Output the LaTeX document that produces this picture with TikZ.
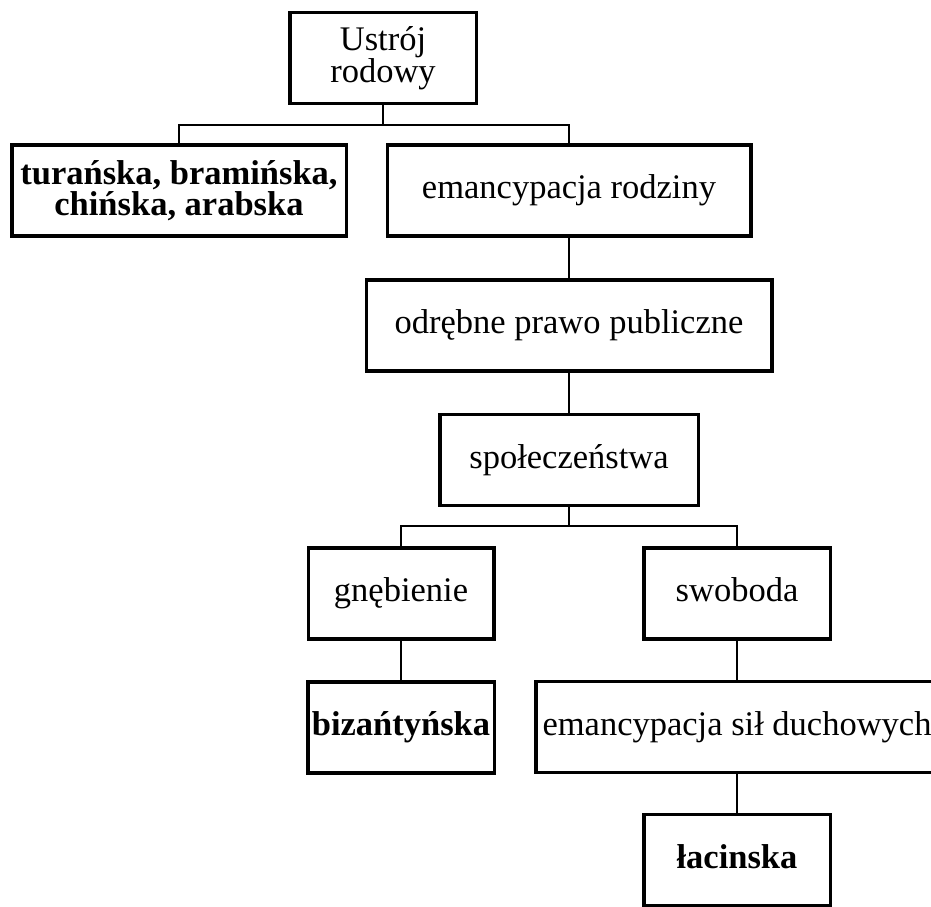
\documentclass[tikz,border=0pt]{standalone}
\usepackage{fontspec}
\setmainfont{Liberation Serif}
\usetikzlibrary{positioning}
\tikzset{
    every node/.style={font=\fontsize{34.5}{31}\selectfont},
    stage/.style={draw,line width=3.5pt,fill=white,align=center,inner sep=0pt,minimum height=91pt},
    tribe/.style={stage,font=\fontsize{34.5}{31}\selectfont\bfseries},
    oneline/.style={text height=23.5pt,text depth=7.5pt},
    link/.style={draw,line width=2pt}
}

\begin{document}
\begin{tikzpicture}[x=1pt,y=-1pt]
\useasboundingbox (0,0) rectangle (931,906);
\clip (0,0) rectangle (931,906);
% top: ustroj rodowy and first split
\node[stage,minimum width=186.5pt] (rod) at (383,58) {Ustrój\\rodowy};
\node[tribe,minimum width=334.5pt] (tur) at (179,190.5) {turańska, bramińska,\\chińska, arabska};
\node[stage,oneline,minimum width=363.5pt] (emr) at (569,190.5) {emancypacja rodziny};
\node[stage,oneline,minimum width=405.5pt] (odr) at (569,325.5) {odrębne prawo publiczne};
\node[stage,oneline,minimum width=258.5pt] (spo) at (569,460) {społeczeństwa};
% second split
\node[stage,oneline,minimum width=185.5pt] (gne) at (401,593.5) {gnębienie};
\node[stage,oneline,minimum width=186.5pt] (swo) at (737,593.5) {swoboda};
\node[tribe,oneline,minimum width=186.5pt] (biz) at (401,727.5) {bizańtyńska};
\node[stage,oneline,minimum width=402.5pt] (esd) at (737,727) {emancypacja sił duchowych};
\node[tribe,oneline,minimum width=186.5pt] (lac) at (737,860) {łacinska};
\coordinate (fork1) at (383,125);
\coordinate (fork2) at (569,526);
\draw[link] (rod.south) -- (fork1);
\draw[link] (tur.north) |- (fork1) -| (emr.north);
\draw[link] (spo.south) -- (fork2);
\draw[link] (gne.north) |- (fork2) -| (swo.north);
\foreach \a/\b in {emr/odr,odr/spo,gne/biz,swo/esd,esd/lac}
    \draw[link] (\a.south) -- (\b.north);
\end{tikzpicture}
\end{document}
